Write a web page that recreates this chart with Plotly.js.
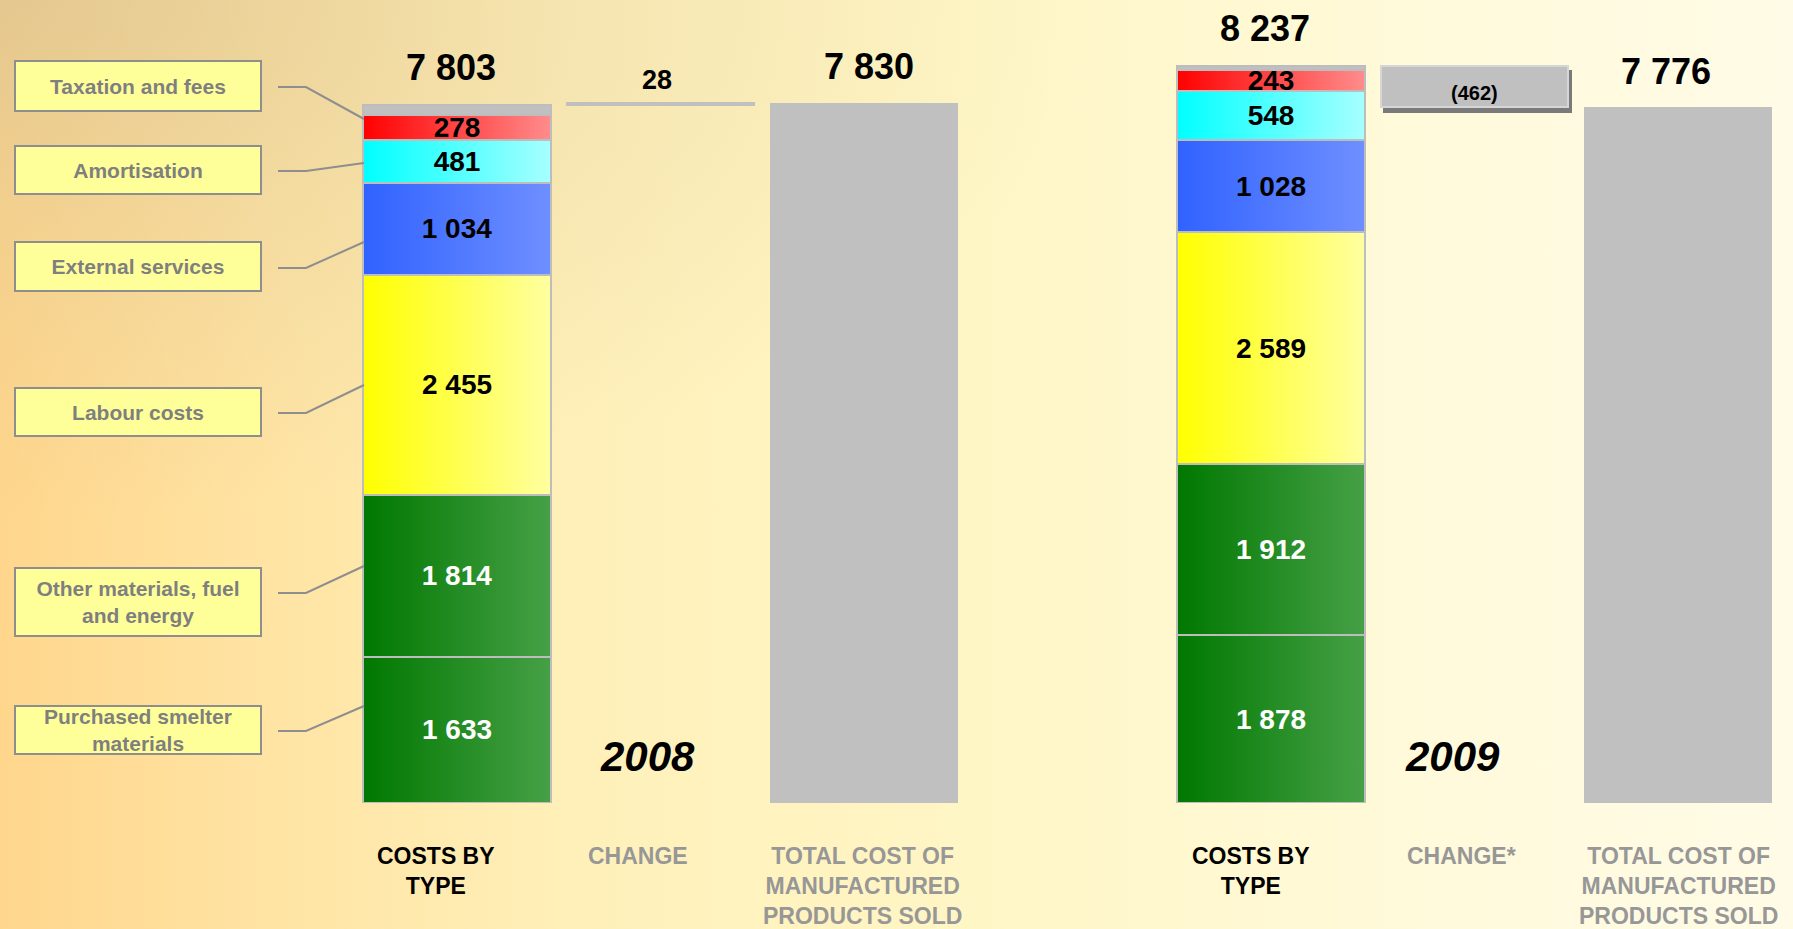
<!DOCTYPE html>
<html>
<head>
<meta charset="utf-8">
<script src="https://cdn.plot.ly/plotly-3.0.1.min.js"></script>
<style>
  html, body { margin: 0; padding: 0; width: 1793px; height: 929px; overflow: hidden; }
  body {
    background:
      radial-gradient(ellipse 1100px 520px at 0% 0%, rgba(210,190,145,0.6) 0%, rgba(210,190,145,0.25) 45%, rgba(210,190,145,0) 100%),
      linear-gradient(90deg, #ffd68c 0%, #ffe3a2 14%, #fff0b9 32%, #fff6c6 55%, #fffadb 80%, #fffbe6 100%);
    font-family: "Liberation Sans", Arial, sans-serif;
  }
  #chart { width: 1793px; height: 929px; }
</style>
</head>
<body>
<div id="chart"></div>
<script>
// ---------- data ----------
const years = ['2008', '2009'];
const segmentNames = ['Purchased smelter materials', 'Other materials, fuel and energy', 'Labour costs',
                      'External services', 'Amortisation', 'Taxation and fees', 'Other'];
const purchased = [1633, 1878];
const otherMaterials = [1814, 1912];
const labour = [2455, 2589];
const externalServices = [1034, 1028];
const amortisation = [481, 548];
const taxation = [278, 243];
const otherCosts = [108, 39];          // unlabeled grey top slice
const costsByTypeTotal = [7803, 8237];
const changeValues = [28, -462];
const cogsTotal = [7830, 7776];
const changeLabels = ['28', '(462)'];
const categoryLabels = ['COSTS BY<br>TYPE', 'CHANGE', 'TOTAL COST OF<br>MANUFACTURED<br>PRODUCTS SOLD',
                        'COSTS BY<br>TYPE', 'CHANGE*', 'TOTAL COST OF<br>MANUFACTURED<br>PRODUCTS SOLD'];

// ---------- helpers ----------
const W = 1793, H = 929, PB = 803;
const px = v => v / W;
const py = v => (PB - v) / PB;
const fmt = v => String(Math.abs(v)).replace(/\B(?=(\d{3})+(?!\d))/g, ' ');
const FONT = '"Liberation Sans", Arial, sans-serif';

const xStack = [0, 4], xChange = [1, 5], xTotal = [2, 6];
const BW = 0.92;
const segLine = { color: '#bdbdbd', width: 2 };

function seg(name, vals, color, grad, textColor, showText) {
  return {
    type: 'bar', name: name, x: xStack, y: vals, width: BW,
    marker: { color: color, line: segLine },
    text: showText ? vals.map(fmt) : undefined,
    textposition: showText ? 'inside' : 'none',
    insidetextanchor: 'middle', textangle: 0, constraintext: 'none',
    insidetextfont: { family: FONT, size: 28, color: textColor, weight: 'bold' },
    hoverinfo: 'x+y', meta: { grad: grad }
  };
}

const traces = [
  seg(segmentNames[0], purchased, '#2a8c2a', 'gGreen', '#ffffff', true),
  seg(segmentNames[1], otherMaterials, '#2a8c2a', 'gGreen', '#ffffff', true),
  seg(segmentNames[2], labour, '#ffff55', 'gYellow', '#000000', true),
  seg(segmentNames[3], externalServices, '#4a78ff', 'gBlue', '#000000', true),
  seg(segmentNames[4], amortisation, '#55ffff', 'gCyan', '#000000', true),
  seg(segmentNames[5], taxation, '#ff4545', 'gRed', '#000000', true),
  seg(segmentNames[6], otherCosts, '#c0c0c0', null, '#000000', false),
  { // invisible waterfall base for the change bars
    type: 'bar', x: xChange, width: BW,
    y: costsByTypeTotal.map((v, i) => Math.min(v, cogsTotal[i])),
    marker: { color: 'rgba(0,0,0,0)', line: { width: 0 } }, hoverinfo: 'skip', meta: {}
  },
  {
    type: 'bar', name: 'Change', x: xChange, width: BW,
    y: changeValues.map(Math.abs),
    marker: { color: '#c0c0c0', line: { color: ['#c0c0c0', '#d6d6d6'], width: 2 } },
    hoverinfo: 'x+y', meta: { shadow: [1] }
  },
  {
    type: 'bar', name: 'Total cost of manufactured products sold', x: xTotal, width: BW,
    y: cogsTotal, marker: { color: '#c0c0c0', line: { width: 0 } }, hoverinfo: 'x+y', meta: {}
  }
];

// ---------- annotations ----------
const ann = [];
const bigFont = { family: FONT, size: 36, color: '#000000', weight: 'bold' };
const totShift = [-6, -6];
costsByTypeTotal.forEach((v, i) => ann.push({
  x: xStack[i], y: v, xref: 'x', yref: 'y', text: fmt(v), showarrow: false,
  yanchor: 'middle', yshift: 38, xshift: totShift[i], font: bigFont
}));
const cogsShift = [5, -12];
cogsTotal.forEach((v, i) => ann.push({
  x: xTotal[i], y: v, xref: 'x', yref: 'y', text: fmt(v), showarrow: false,
  yanchor: 'middle', yshift: 36, xshift: cogsShift[i], font: bigFont
}));
// change labels
ann.push({ x: xChange[0], y: Math.max(costsByTypeTotal[0], cogsTotal[0]), xref: 'x', yref: 'y',
  text: changeLabels[0], showarrow: false, yanchor: 'middle', yshift: 23, xshift: -4,
  font: { family: FONT, size: 27, color: '#000000', weight: 'bold' } });
ann.push({ x: xChange[1], y: Math.min(costsByTypeTotal[1], cogsTotal[1]), xref: 'x', yref: 'y',
  text: changeLabels[1], showarrow: false, yanchor: 'middle', yshift: 14,
  font: { family: FONT, size: 20, color: '#000000', weight: 'bold' } });

// year labels
const yearX = [647, 1452];
years.forEach((y, i) => ann.push({ x: px(yearX[i]), y: py(756), xref: 'paper', yref: 'paper',
  text: '<i>' + y + '</i>', showarrow: false, xanchor: 'center', yanchor: 'middle',
  font: { family: FONT, size: 42, color: '#000000', weight: 'bold' } }));

// category labels under bars
const catX = [436, 638, 862, 1251, 1461, 1678];
const catColor = ['#000000', '#979797', '#979797', '#000000', '#979797', '#979797'];
categoryLabels.forEach((t, i) => ann.push({ x: px(catX[i]), y: py(841), xref: 'paper', yref: 'paper',
  text: t, showarrow: false, xanchor: 'center', yanchor: 'top', align: 'center',
  font: { family: FONT, size: 23, color: catColor[i], weight: 'bold' } }));

// left legend boxes
const boxText = ['Taxation and fees', 'Amortisation', 'External services', 'Labour costs',
                 'Other materials, fuel<br>and energy', 'Purchased smelter<br>materials'];
const boxCY = [86, 170, 266, 412, 602, 730];
const boxH = [48, 46, 47, 46, 66, 46];
boxText.forEach((t, i) => ann.push({ x: px(138), y: py(boxCY[i]), xref: 'paper', yref: 'paper',
  text: t, showarrow: false, xanchor: 'center', yanchor: 'middle', width: 244, height: boxH[i],
  bgcolor: '#ffff99', bordercolor: '#8e8e8e', borderwidth: 2, borderpad: 0, align: 'center',
  font: { family: FONT, size: 21, color: '#7f7f7f', weight: 'bold' } }));

// connector lines
const conY = [[87, 119], [171, 163], [268, 242], [413, 385], [593, 566], [731, 706]];
const shapes = conY.map(c => ({
  type: 'path', xref: 'paper', yref: 'paper',
  path: `M ${px(278)} ${py(c[0])} L ${px(306)} ${py(c[0])} L ${px(364)} ${py(c[1])}`,
  line: { color: '#8e8e8e', width: 2 }
}));

const layout = {
  width: W, height: H,
  margin: { l: 0, r: 0, t: 0, b: H - PB, pad: 0 },
  paper_bgcolor: 'rgba(0,0,0,0)', plot_bgcolor: 'rgba(0,0,0,0)',
  barmode: 'stack', showlegend: false,
  xaxis: { visible: false, range: [-457 / 203.5, (W - 457) / 203.5], fixedrange: true },
  yaxis: { visible: false, range: [0, PB / 0.08945], fixedrange: true },
  annotations: ann, shapes: shapes,
  font: { family: FONT }
};

const gd = document.getElementById('chart');
Plotly.newPlot(gd, traces, layout, { displayModeBar: false, staticPlot: true }).then(() => {
  const ns = 'http://www.w3.org/2000/svg';
  const svg = gd.querySelector('svg.main-svg');
  let defs = svg.querySelector('defs');
  if (!defs) { defs = document.createElementNS(ns, 'defs'); svg.insertBefore(defs, svg.firstChild); }
  const grads = {
    gRed: ['#ff0000', '#ff8c8c'], gCyan: ['#00ffff', '#a6ffff'], gBlue: ['#3062ff', '#6f8fff'],
    gYellow: ['#ffff00', '#ffffa0'], gGreen: ['#007800', '#46a046']
  };
  Object.keys(grads).forEach(id => {
    const lg = document.createElementNS(ns, 'linearGradient');
    lg.setAttribute('id', id); lg.setAttribute('x1', '0'); lg.setAttribute('y1', '0');
    lg.setAttribute('x2', '1'); lg.setAttribute('y2', '0');
    [[0, grads[id][0]], [1, grads[id][1]]].forEach(s => {
      const st = document.createElementNS(ns, 'stop');
      st.setAttribute('offset', s[0]); st.setAttribute('stop-color', s[1]);
      lg.appendChild(st);
    });
    defs.appendChild(lg);
  });
  const f = document.createElementNS(ns, 'filter');
  f.setAttribute('id', 'boxShadow'); f.setAttribute('x', '-10%'); f.setAttribute('y', '-10%');
  f.setAttribute('width', '130%'); f.setAttribute('height', '170%');
  const ds = document.createElementNS(ns, 'feDropShadow');
  ds.setAttribute('dx', '3'); ds.setAttribute('dy', '5'); ds.setAttribute('stdDeviation', '0');
  ds.setAttribute('flood-color', '#7a7a7a'); ds.setAttribute('flood-opacity', '1');
  f.appendChild(ds); defs.appendChild(f);

  gd.querySelectorAll('.barlayer .trace').forEach(el => {
    const d = el.__data__; if (!d || !d[0]) return;
    const meta = d[0].trace.meta || {};
    const paths = el.querySelectorAll('.point path');
    if (meta.grad) paths.forEach(p => { p.style.fill = 'url(#' + meta.grad + ')'; });
    if (meta.shadow) meta.shadow.forEach(k => { if (paths[k]) paths[k].setAttribute('filter', 'url(#boxShadow)'); });
  });
});
</script>
</body>
</html>
